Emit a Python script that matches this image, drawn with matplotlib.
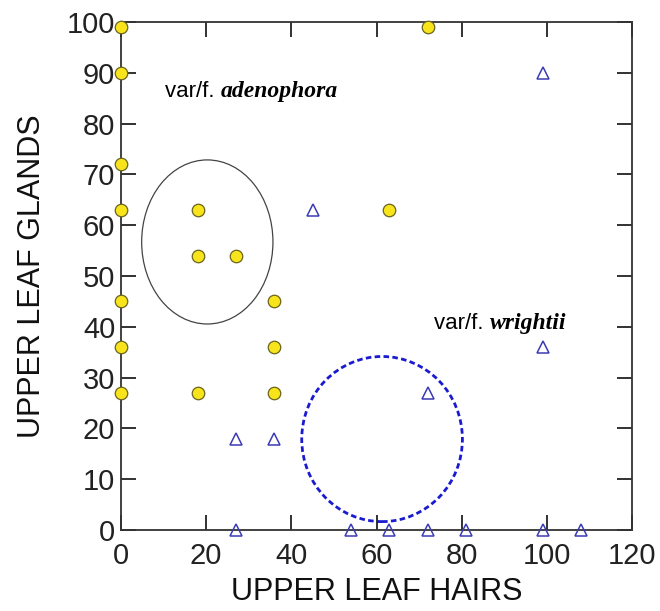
import matplotlib.pyplot as plt
from matplotlib.patches import Ellipse

plt.rcParams['font.family'] = ['Liberation Sans', 'DejaVu Sans']

# var/f. adenophora (yellow circles)
aden_x = [0, 0, 0, 0, 0, 0, 0, 18, 18, 27, 18, 36, 36, 36, 63, 72]
aden_y = [99, 90, 72, 63, 45, 36, 27, 63, 54, 54, 27, 45, 36, 27, 63, 99]

# var/f. wrightii (open triangles)
wri_x = [27, 36, 45, 72, 99, 99, 27, 54, 63, 72, 81, 99, 108]
wri_y = [18, 18, 63, 27, 90, 36, 0, 0, 0, 0, 0, 0, 0]

x_ticks = [0, 20, 40, 60, 80, 100, 120]
y_ticks = [0, 10, 20, 30, 40, 50, 60, 70, 80, 90, 100]

fig = plt.figure(figsize=(6.6, 6.11), dpi=100)
ax = fig.add_axes([0.183, 0.1326, 0.775, 0.8314])

# group ellipses
ax.add_patch(Ellipse((20.3, 56.7), 30.8, 32.3, fill=False, edgecolor='#444444', lw=0.9))
ax.add_patch(Ellipse((61.3, 17.9), 37.7, 32.5, fill=False, edgecolor='#1a1ad0', lw=2.0,
                     linestyle=(0, (2, 1.2))))

ax.plot(wri_x, wri_y, linestyle='none', marker='^', markersize=8, markerfacecolor='none',
        markeredgecolor='#3c3cb4', markeredgewidth=1.1, clip_on=False, zorder=3)
ax.plot(aden_x, aden_y, linestyle='none', marker='o', markersize=9, markerfacecolor='#f7e41a',
        markeredgecolor='#6b6420', markeredgewidth=0.9, clip_on=False, zorder=4)

ax.set_xlim(0, 120)
ax.set_ylim(0, 100)
ax.set_xticks(x_ticks)
ax.set_yticks(y_ticks)
ax.tick_params(direction='in', length=11, width=1.3, top=True, right=True,
               labelsize=21, colors='#222222')
ax.tick_params(axis='x', pad=9)
ax.tick_params(axis='y', pad=4)
for s in ax.spines.values():
    s.set_linewidth(1.3)
    s.set_color('#333333')

ax.set_xlabel('UPPER LEAF HAIRS', fontsize=22, labelpad=5, color='#111111')
ax.set_ylabel('UPPER LEAF GLANDS', fontsize=22, labelpad=14, color='#111111')

# labels: plain prefix + bold italic serif name
t1 = ax.text(10.4, 85.2, 'var/f. ', fontsize=16, va='baseline', ha='left')
ax.annotate('adenophora', xy=(1, 0), xycoords=t1, va='bottom', ha='left',
            fontsize=17, family='Liberation Serif', style='italic', weight='bold')
t2 = ax.text(73.6, 39.5, 'var/f. ', fontsize=16, va='baseline', ha='left')
ax.annotate('wrightii', xy=(1, 0), xycoords=t2, va='bottom', ha='left',
            fontsize=17, family='Liberation Serif', style='italic', weight='bold')

fig.savefig('out.png', dpi=100)
